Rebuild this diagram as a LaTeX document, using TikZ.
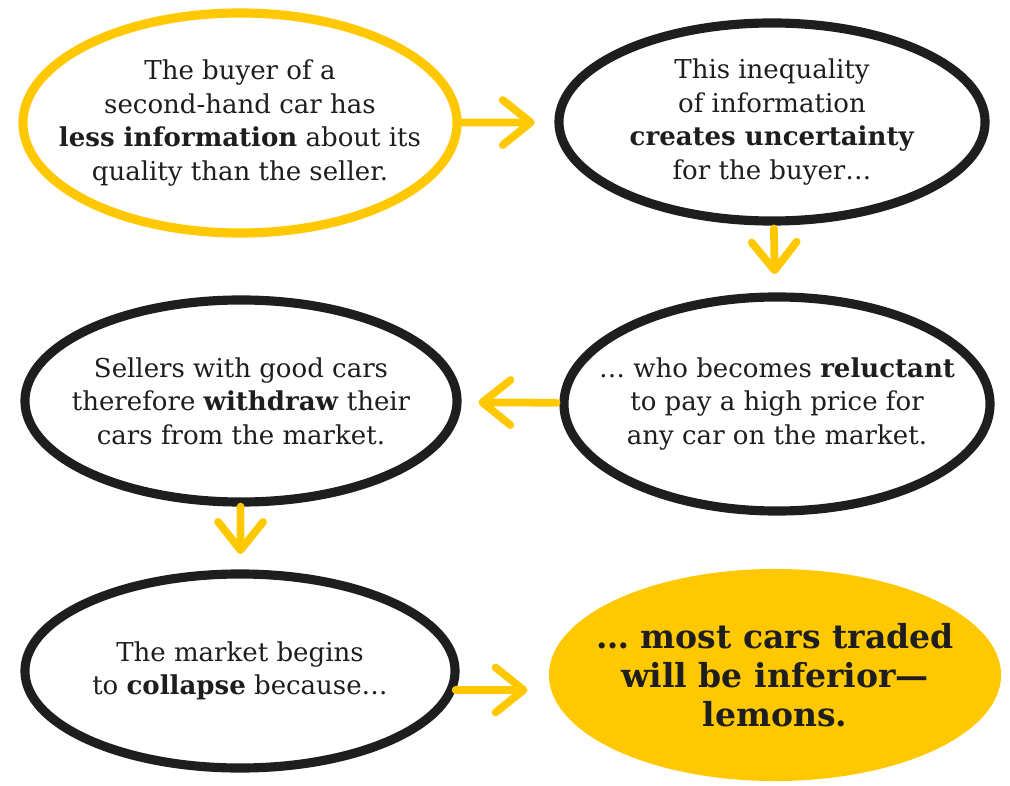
\documentclass[tikz,border=0pt]{standalone}
\usepackage{fontspec}
\setmainfont{DejaVu Serif}
\usetikzlibrary{shapes.geometric,arrows.meta,calc}

\begin{document}
\begin{tikzpicture}[x=0.025cm,y=-0.025cm] % one unit = one pixel of the sketch

    % Colours
    \definecolor{lemon}{HTML}{FFC800}
    \definecolor{ink}{HTML}{1E1E1E}

    \tikzset{
        bubble/.style={ellipse, draw=ink, line width=6.5pt, text=ink, align=center,
            inner sep=-3cm, font=\fontsize{18.5}{23.8}\selectfont},
        flow/.style={lemon, line width=5.5pt, line cap=round,
            -{Straight Barb[length=20pt, width=32pt, line cap=round, line join=round]}}
    }

    \useasboundingbox (0,0) rectangle (1010,786);

    % === Bubbles ===
    \node[bubble, draw=lemon, minimum width=10.85cm, minimum height=5.5cm] (buyer) at (240,123)
        {The buyer of a\\ second-hand car has\\ \textbf{less information} about its\\ quality than the seller.};
    \node[bubble, minimum width=10.65cm, minimum height=4.95cm] (doubt) at (772,122)
        {This inequality\\ of information\\ \textbf{creates uncertainty}\\ for the buyer…};
    \node[bubble, minimum width=10.65cm, minimum height=5.35cm] (reluct) at (777,404)
        {… who becomes \textbf{reluctant}\\ to pay a high price for\\ any car on the market.};
    \node[bubble, minimum width=10.8cm, minimum height=5.05cm] (withdraw) at (241,401)
        {Sellers with good cars\\ therefore \textbf{withdraw} their\\ cars from the market.};
    \node[bubble, minimum width=10.75cm, minimum height=4.85cm] (collapse) at (240,671)
        {The market begins\\ to \textbf{collapse} because…};
    \node[bubble, draw=none, fill=lemon, minimum width=11.3cm, minimum height=5.3cm,
        font=\bfseries\fontsize{23.5}{27.8}\selectfont] (lemons) at (775,675)
        {… most cars traded\\ will be inferior—\\ lemons.};

    % === Arrows ===
    \draw[flow, shorten >=14pt] (buyer) -- (doubt);
    \draw[flow, shorten <=2pt, shorten >=13pt] (doubt) -- (reluct);
    \draw[flow, shorten <=2pt, shorten >=12pt] (reluct) -- (withdraw);
    \draw[flow, shorten >=11pt] (withdraw) -- (collapse);
    \draw[flow, shorten >=12pt] ($(collapse.east)+(-4,19)$) -- ($(lemons.west)+(0,15)$);

\end{tikzpicture}
\end{document}
